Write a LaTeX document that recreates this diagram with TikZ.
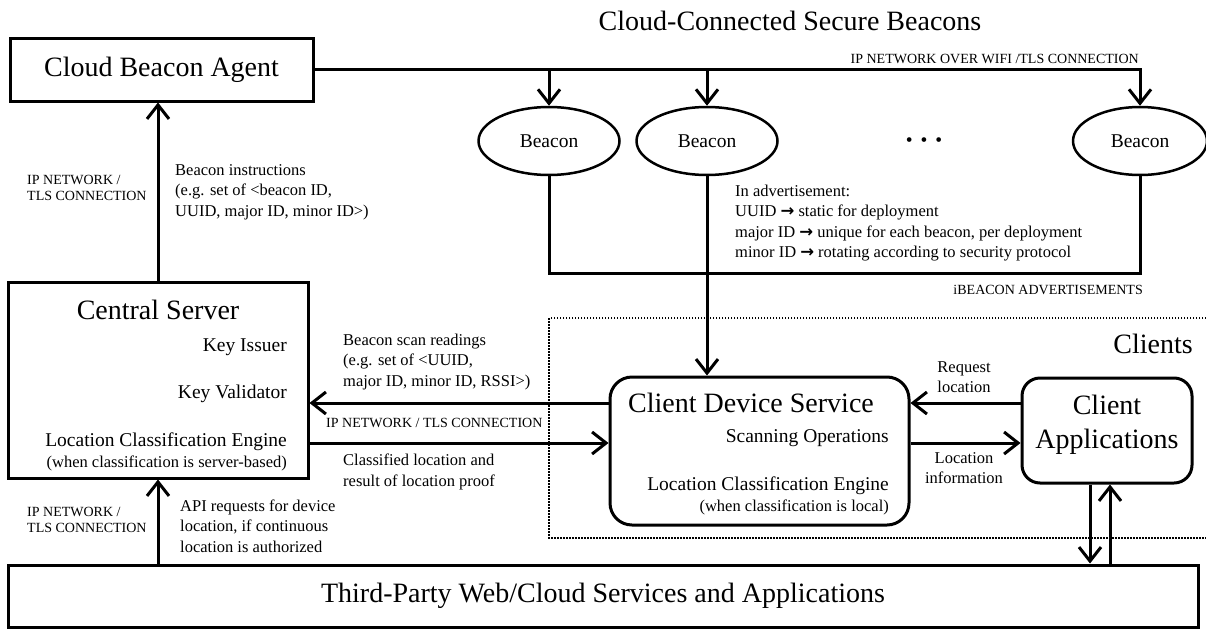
\documentclass[tikz,border=0pt]{standalone}
\usepackage{fontspec}
\setmainfont{Liberation Serif}
\newfontfamily\arrowfont{DejaVu Sans}
\usetikzlibrary{calc,arrows.meta,shapes.geometric}
\newcommand{\headfont}{\fontsize{28}{34}\selectfont}
\newcommand{\bodyfont}{\fontsize{19.5}{23}\selectfont}
\newcommand{\notefont}{\fontsize{16.5}{20.5}\selectfont}
\newcommand{\capsfont}{\fontsize{14}{16.5}\selectfont}
\newcommand{\goesto}{{\arrowfont\bfseries →}}

\begin{document}
\begin{tikzpicture}[x=1pt, y=-1pt,
  box/.style={draw, line width=3pt, inner sep=0pt},
  beacon/.style={draw, ellipse, line width=2.5pt, minimum width=141pt, minimum height=68pt, inner sep=0pt, font=\bodyfont},
  link/.style={line width=3pt, -{Straight Barb[length=14pt, width=22pt]}},
  wire/.style={line width=3pt},
  zone/.style={line width=2pt, dash pattern=on 1.5pt off 1.5pt},
  note/.style={align=left, inner sep=0pt, font=\notefont},
  caps/.style={align=left, inner sep=0pt, font=\capsfont},
  title/.style={inner sep=0pt, font=\headfont},
  item/.style={inner sep=0pt, anchor=east, font=\bodyfont}]
\useasboundingbox (0, 0) rectangle (1206, 629);

\node [box, minimum width=303pt, minimum height=63pt, font=\headfont] (agent) at (161.5, 69.5) {Cloud Beacon Agent};
\node [title] (beacontitle) at (790, 21) {Cloud-Connected Secure Beacons};
\node [caps, anchor=east] (wifi) at (1139, 59) {IP NETWORK OVER WIFI /TLS CONNECTION};

\node [beacon] (b1) at (549, 141) {Beacon};
\node [beacon] (b2) at (707, 141) {Beacon};
\node [beacon, minimum width=134pt] (b3) at (1140, 141) {Beacon};
\node [font=\bodyfont] (dots) at (924, 142) {•\hspace{8pt}•\hspace{8pt}•};
\coordinate (bus) at (549, 273);

\node [note, anchor=west] (advert) at (735, 223) {In advertisement:\\UUID \goesto{} static for deployment\\major ID \goesto{} unique for each beacon, per deployment\\minor ID \goesto{} rotating according to security protocol};
\node [caps, anchor=east] (ibeacon) at (1143, 290) {iBEACON ADVERTISEMENTS};

\node [box, minimum width=300pt, minimum height=196pt] (server) at (158, 380) {};
\node [title] (servertitle) at (158, 310) {Central Server};
\node [item] (issuer) at (287, 347) {Key Issuer};
\node [item] (validator) at (287, 394) {Key Validator};
\node [item] (serverlce) at (287, 442) {Location Classification Engine};
\node [item, font=\notefont] (serverwhen) at (287, 463) {(when classification is server-based)};

\node [caps, anchor=west] (netleft) at (27, 188) {IP NETWORK /\\TLS CONNECTION};
\node [note, anchor=west] (instr) at (175, 192) {Beacon instructions\\(e.g. set of <beacon ID,\\UUID, major ID, minor ID>)};
\node [note, anchor=west] (scan) at (343, 362) {Beacon scan readings\\(e.g. set of <UUID,\\major ID, minor ID, RSSI>)};
\node [caps, anchor=west] (netmid) at (326, 423) {IP NETWORK / TLS CONNECTION};
\node [note, anchor=west] (classified) at (343, 472) {Classified location and\\result of location proof};
\node [caps, anchor=west] (netlow) at (27, 520) {IP NETWORK /\\TLS CONNECTION};
\node [note, anchor=west] (api) at (180, 526) {API requests for device\\location, if continuous\\location is authorized};

\draw [zone] (1206, 318) -- (549, 318) -- (549, 538) -- (1206, 538);
\node [title, anchor=east] (clients) at (1193, 344) {Clients};

\node [box, rounded corners=22pt, minimum width=299pt, minimum height=148pt] (cds) at (759.5, 451) {};
\node [title] (cdstitle) at (751, 403) {Client Device Service};
\node [item] (scanops) at (889, 438) {Scanning Operations};
\node [item] (cdslce) at (889, 486) {Location Classification Engine};
\node [item, font=\notefont] (cdswhen) at (889, 507) {(when classification is local)};

\node [box, rounded corners=18pt, minimum width=170pt, minimum height=105pt] (capps) at (1107, 430.5) {};
\node [title, align=center] (cappstext) at (1107, 425) {Client\\Applications};
\node [note, align=center] (request) at (964, 377) {Request\\location};
\node [note, align=center] (locinfo) at (964, 468) {Location\\information};

\node [box, minimum width=1190pt, minimum height=62pt, font=\headfont] (third) at (603, 596) {Third-Party Web/Cloud Services and Applications};

\draw [link] (server.north) -- (server.north |- agent.south);
\draw [link] (agent.east) -| (b3.north);
\draw [link] (agent.east -| b1.north) -- (b1.north);
\draw [link] (agent.east -| b2.north) -- (b2.north);
\draw [wire] (b1.south) -- (bus) -| (b3.south);
\draw [link] (b2.south) -- (b2.south |- cds.north);
\draw [link] (cds.west |- 0, 403) -- (server.east |- 0, 403);
\draw [link] (server.east |- 0, 443) -- (cds.west |- 0, 443);
\draw [link] (capps.west |- 0, 403) -- (cds.east |- 0, 403);
\draw [link] (cds.east |- 0, 443) -- (capps.west |- 0, 443);
\draw [link] (capps.south -| 1090, 0) -- (third.north -| 1090, 0);
\draw [link] (third.north -| 1110, 0) -- (capps.south -| 1110, 0);
\draw [link] (third.north -| server.south) -- (server.south);
\end{tikzpicture}
\end{document}
